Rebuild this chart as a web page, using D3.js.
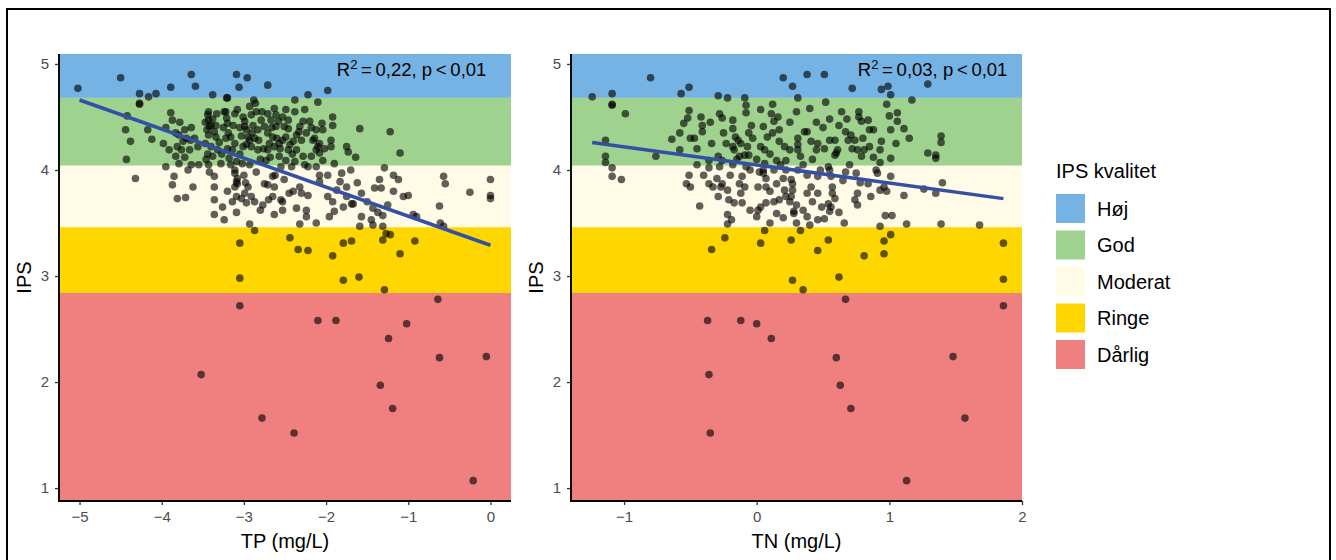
<!DOCTYPE html>
<html><head><meta charset="utf-8">
<script src="https://cdn.jsdelivr.net/npm/d3@7"></script>
<style>
html,body{margin:0;padding:0;background:#fff;}
svg{display:block;font-family:"Liberation Sans",Arial,Helvetica,sans-serif;}
</style></head>
<body><svg id="chart" width="1336" height="560"></svg>
<script>
// ---------- DATA ----------
const qualityNames = ["Høj","God","Moderat","Ringe","Dårlig"];
const qualityColors = ["#74B3E3","#9FD18F","#FFFBE6","#FFD700","#F08080"];
const qualityLower = [4.68, 4.04, 3.46, 2.84, -Infinity]; // lower IPS bound of each class
const qualityUpper = [Infinity, 4.68, 4.04, 3.46, 2.84];

const yTicks = [1,2,3,4,5];
const tpTicks = [-5,-4,-3,-2,-1,0];
const tnTicks = [-1,0,1,2];

// TP (mg/L) vs IPS
const tpData = [
[-5.02,4.77],[-4.50,4.87],[-3.64,4.90],[-3.59,4.79],[-3.89,4.78],[-3.09,4.90],[-2.96,4.87],[-3.06,4.78],[-2.71,4.80],
[-4.27,4.72],[-4.16,4.69],[-4.07,4.72],[-4.27,4.62],[-4.27,4.63],[-3.38,4.71],[-3.20,4.68],[-2.88,4.66],[-2.86,4.63],[-2.63,4.58],
[-4.44,4.38],[-4.38,4.27],[-4.12,4.29],[-4.17,4.38],[-4.43,4.10],[-4.32,3.92],[-4.42,4.51],
[-3.89,4.54],[-3.87,4.47],[-3.91,4.19],[-3.83,4.13],[-3.79,4.06],[-3.76,4.19],[-3.72,4.38],[-3.64,4.40],[-3.65,4.28],[-3.66,4.19],
[-3.74,4.27],[-3.83,4.35],[-3.95,4.03],[-3.64,4.05],[-3.56,4.22],[-3.85,3.94],[-3.87,3.86],[-3.81,3.73],[-3.71,3.74],[-3.62,3.84],
[-3.79,4.33],[-3.70,4.30],[-3.81,4.22],
[-3.43,4.55],[-3.43,4.47],[-3.40,4.42],[-3.43,4.33],[-3.40,4.22],[-3.43,4.05],[-3.42,3.98],[-3.36,3.94],[-3.36,3.84],[-3.36,3.72],
[-3.36,3.58],[-3.26,3.65],[-3.24,3.53],[-3.44,4.52],[-3.34,4.42],[-3.33,4.53],[-3.34,4.31],[-3.32,4.19],[-3.38,4.13],[-3.28,4.06],[-3.42,4.41],
[-3.21,4.68],[-3.22,4.55],[-3.21,4.49],[-3.20,4.44],[-3.22,4.30],[-3.20,4.20],[-3.18,4.11],[-3.16,4.05],[-3.11,3.97],[-3.09,3.89],
[-3.11,3.84],[-3.09,3.75],[-3.03,3.73],[-3.09,3.60],[-2.93,3.49],[-2.87,3.43],[-3.05,3.31],[-3.05,2.98],[-3.05,2.72],
[-3.11,4.53],[-3.08,4.57],[-3.16,4.31],[-3.11,4.25],[-3.14,4.19],[-3.09,4.08],[-3.11,4.00],[-3.08,3.92],[-3.08,3.87],
[-3.01,4.50],[-2.99,4.46],[-2.97,4.38],[-2.95,4.31],[-2.91,4.52],[-2.85,4.55],[-2.91,4.22],[-2.87,4.30],[-2.83,4.19],[-2.85,3.98],
[-2.95,3.84],[-2.91,3.75],[-2.87,3.70],[-2.97,3.69],[-2.77,3.67],[-2.75,3.87],[-2.71,3.86],[-2.65,3.94],[-2.63,3.84],[-2.65,3.75],
[-2.55,3.72],[-2.63,3.58],[-2.99,4.41],[-2.93,4.28],[-2.97,4.24],[-3.01,4.22],[-2.89,4.42],[-2.83,4.38],[-2.93,4.05],
[-2.71,4.53],[-2.67,4.47],[-2.61,4.52],[-2.61,4.41],[-2.65,4.31],[-2.71,4.19],[-2.73,4.09],[-2.57,4.13],[-2.55,4.03],[-2.51,3.91],
[-2.63,4.22],[-2.51,4.41],[-2.53,4.28],[-2.75,4.41],[-2.79,4.47],[-2.71,4.35],[-2.69,4.25],
[-1.98,4.75],[-2.22,4.71],[-2.10,4.64],[-2.38,4.66],[-2.49,4.57],[-2.38,4.55],[-2.26,4.57],[-2.46,4.47],[-2.46,4.39],[-1.92,4.50],
[-1.92,4.42],[-2.04,4.38],[-2.12,4.38],[-1.94,4.28],[-1.94,4.22],[-1.75,4.22],[-1.73,4.17],[-1.64,4.12],[-1.59,4.39],[-1.22,4.36],[-1.10,4.16],
[-2.49,4.31],[-2.36,4.33],[-2.30,4.28],[-2.46,4.19],[-2.36,4.19],[-2.28,4.13],[-2.18,4.13],[-2.12,4.19],[-2.10,4.22],[-2.08,4.25],
[-2.16,4.28],[-2.49,4.09],[-2.38,4.08],[-2.22,4.03],[-2.12,4.03],[-2.08,4.16],[-2.32,4.41],[-2.20,4.46],[-2.53,4.50],[-2.57,4.25],
[-2.40,4.27],[-2.42,4.03],[-2.26,4.05],[-2.04,4.09],[-1.90,4.06],
[-1.81,3.97],[-1.83,3.89],[-1.75,3.84],[-1.87,3.81],[-1.75,3.75],[-1.69,3.68],[-1.79,3.65],[-2.08,3.95],[-2.08,3.89],[-1.98,3.75],
[-1.92,3.70],[-1.67,3.68],[-1.57,3.56],[-2.32,3.84],[-2.30,3.78],[-2.22,3.76],[-2.36,3.64],[-2.24,3.62],[-2.24,3.56],[-2.12,3.50],
[-2.32,3.49],[-1.96,3.56],[-1.90,3.61],[-2.53,3.70],[-2.53,3.62],[-2.40,3.80],[-1.57,3.78],[-1.41,3.83],[-1.33,3.83],[-1.35,3.91],
[-1.29,4.02],[-1.18,3.95],[-1.12,3.91],[-1.18,3.80],[-1.06,3.75],[-1.00,3.76],[-1.25,3.67],[-1.31,3.57],[-1.43,3.64],[-1.45,3.53],
[-1.43,3.48],[-1.31,3.47],[-1.27,3.40],[-1.22,3.39],[-1.31,3.34],[-1.59,3.47],
[-0.94,3.58],[-0.90,3.56],[-0.61,3.50],[-0.57,3.47],[-0.57,3.94],[-0.55,3.87],[-0.62,3.66],[-0.25,3.79],[0.00,3.91],[0.00,3.76],[0.00,3.73],
[-2.44,3.36],[-2.34,3.25],[-2.22,3.24],[-1.92,3.19],[-1.79,3.31],[-1.69,3.33],[-1.79,2.96],[-1.60,2.99],[-1.10,3.21],[-0.92,3.33],
[-1.29,2.87],[-0.64,2.78],
[-3.52,2.07],[-2.10,2.58],[-1.88,2.58],[-1.02,2.55],[-1.24,2.41],[-0.62,2.23],[-0.05,2.24],[-1.34,1.97],[-2.78,1.66],[-2.39,1.52],
[-1.19,1.75],[-0.21,1.07],
[-3.47,4.45],[-3.45,4.38],[-3.47,4.25],[-3.44,4.15],[-3.46,4.10],[-3.38,4.48],[-3.36,4.36],[-3.30,4.26],[-3.25,4.40],[-3.27,4.15],
[-3.24,4.55],[-3.19,4.35],[-3.13,4.42],[-3.05,4.40],[-3.03,4.32],[-3.05,4.15],[-3.02,4.06],[-3.00,3.95],[-2.98,3.88],[-2.93,4.60],
[-2.90,4.35],[-2.82,4.28],[-2.80,4.10],[-2.78,4.55],[-2.76,4.20],[-2.68,4.12],[-2.66,4.40],[-2.60,4.30],[-2.58,4.46],[-2.56,4.20],
[-2.44,4.24],[-2.41,4.15],[-2.33,4.36],[-2.28,4.46],[-2.24,4.35],[-2.18,4.40],[-2.14,4.30],[-2.05,4.44],[-2.02,4.20],[-3.98,4.25],
[-3.95,4.40],[-3.78,4.45],[-3.72,4.12],[-3.68,4.00],[-3.60,4.30],[-3.55,4.05],[-3.20,3.80],[-3.14,3.70],[-2.99,3.78],[-2.80,3.62],
[-2.70,3.72],[-2.45,3.78],[-2.62,3.95],[-1.98,3.95],[-1.70,4.00],[-1.50,3.70],[-1.37,3.60],[-1.62,3.88]
];

// TN (mg/L) vs IPS
const tnData = [
[-1.24,4.69],[-1.09,4.72],[-1.09,4.61],[-1.09,4.62],[-0.99,4.53],[-0.80,4.87],[-0.57,4.72],[-0.51,4.78],[-0.29,4.70],[-0.22,4.68],
[-1.14,4.28],[-1.14,4.13],[-1.14,4.07],[-1.09,4.02],[-1.09,3.94],[-1.02,3.91],[-0.76,4.13],[-0.64,4.29],[-0.58,4.35],[-0.58,4.19],
[-0.55,4.44],[-0.51,4.56],[-0.52,4.49],[-0.50,4.30],[-0.47,4.30],[-0.53,3.87],[-0.51,3.95],[-0.50,3.84],[-0.43,3.66],[-0.42,4.50],
[-0.41,4.42],[-0.41,4.36],[-0.34,4.25],[-0.36,4.09],[-0.36,4.02],[-0.28,4.03],[-0.26,4.09],[-0.28,4.53],[-0.26,4.49],[-0.23,4.25],
[-0.18,4.22],[-0.17,4.19],[-0.36,3.87],[-0.33,3.84],[-0.27,3.84],[-0.26,3.87],[-0.29,3.75],[-0.22,3.81],[-0.21,3.72],[-0.17,3.69],
[-0.22,3.58],[-0.19,3.53],[-0.22,3.49],[-0.18,4.47],[-0.18,4.39],[-0.16,4.31],[-0.14,4.28],[-0.12,4.25],[-0.09,4.68],[-0.08,4.61],
[-0.08,4.54],[-0.04,4.42],[-0.06,4.35],[-0.03,4.30],[-0.07,4.22],[-0.06,4.14],[-0.09,4.14],[-0.13,4.13],[-0.11,3.94],[-0.13,3.87],
[-0.09,3.84],[-0.11,3.69],[0.01,3.84],[0.07,3.84],[0.02,3.98],[0.05,3.97],[0.07,3.92],[0.03,3.65],[0.01,3.62],[0.00,3.56],
[0.07,3.69],[0.03,4.57],[0.05,4.41],[0.11,4.53],[0.13,4.46],[0.16,4.50],[0.17,4.38],[0.08,4.31],[0.12,4.35],[0.17,4.27],
[0.21,4.22],[0.25,4.19],[0.22,4.09],[0.15,4.09],[0.06,4.19],[0.13,3.70],[0.15,3.59],[0.17,3.72],[0.21,3.81],[0.22,3.75],
[0.25,3.70],[0.27,3.87],[0.26,3.91],[0.28,3.59],[-0.34,3.25],[-0.24,3.36],[0.03,3.31],[0.06,3.43],[0.26,3.34],[0.27,2.96],
[0.20,4.87],[0.27,4.79],[0.06,4.06],[0.05,4.00],[0.13,4.00],[0.15,3.87],[0.22,4.00],[-0.29,4.13],[-0.18,4.05],[-0.08,4.03],
[0.38,4.90],[0.51,4.90],[0.72,4.77],[0.94,4.76],[0.99,4.79],[1.01,4.71],[1.17,4.66],[1.29,4.81],[0.31,4.68],[0.52,4.64],
[0.64,4.55],[0.77,4.55],[0.77,4.50],[0.79,4.46],[0.84,4.47],[0.85,4.38],[0.88,4.38],[1.06,4.54],[1.00,4.51],[1.06,4.46],
[1.11,4.39],[1.01,4.38],[0.94,4.27],[0.93,4.19],[1.01,4.11],[0.93,4.07],[0.79,4.13],[0.81,4.19],[0.76,4.19],[0.74,4.28],
[0.71,4.33],[0.67,4.36],[0.69,4.28],[0.59,4.28],[0.61,4.19],[0.59,4.14],[0.55,4.28],[0.51,4.20],[0.45,4.19],[0.46,4.25],
[0.41,4.27],[0.38,4.36],[0.36,4.36],[0.31,4.30],[0.31,4.24],[0.31,4.19],[0.33,4.13],[0.60,4.16],[1.29,4.16],[1.35,4.14],
[1.35,4.11],[1.39,4.32],[1.39,4.26],[1.40,3.88],[1.35,3.78],[1.26,3.82],[1.11,3.76],[1.68,3.48],[1.39,3.49],[1.13,3.49],
[0.93,3.47],[0.97,3.57],[1.02,3.57],[1.01,3.39],[0.96,3.33],[0.96,3.21],[0.81,3.19],[0.62,2.99],[0.67,2.78],[0.46,3.24],
[0.54,3.34],[0.35,2.87],[1.86,3.31],[1.86,2.97],[1.86,2.72],
[0.31,4.00],[0.38,3.95],[0.46,3.94],[0.54,4.03],[0.55,4.00],[0.56,3.94],[0.57,3.84],[0.57,3.78],[0.59,3.73],[0.54,3.68],
[0.49,3.65],[0.56,3.65],[0.55,3.61],[0.51,3.54],[0.46,3.53],[0.38,3.56],[0.40,3.48],[0.33,3.43],[0.30,3.50],[0.28,3.61],
[0.30,3.67],[0.26,3.75],[0.27,3.81],[0.38,3.78],[0.46,3.78],[0.41,3.84],[0.66,3.50],[0.67,3.98],[0.75,3.97],[0.76,3.78],
[0.74,3.72],[0.76,3.67],[0.84,3.87],[0.91,3.97],[0.93,3.81],[0.96,3.84],[0.98,3.80],[1.01,3.94],[0.86,3.75],
[-0.37,2.58],[-0.12,2.58],[0.00,2.55],[0.11,2.41],[-0.36,2.07],[0.60,2.23],[1.48,2.24],[0.63,1.97],[0.71,1.75],[1.57,1.66],
[-0.35,1.52],[1.13,1.07],
[-0.45,4.05],[-0.40,3.95],[-0.30,3.92],[-0.20,3.95],[-0.15,4.10],[-0.05,4.00],[0.00,4.10],[0.03,4.22],[0.10,4.15],[0.18,4.05],
[0.10,3.80],[0.20,3.92],[0.35,4.05],[0.42,4.10],[0.48,4.00],[0.50,4.40],[0.55,4.48],[0.62,4.42],[0.68,4.48],[0.72,4.20],
[0.80,4.30],[0.85,4.22],[0.88,4.12],[0.90,4.00],[0.70,4.05],[0.65,3.90],[0.42,3.70],[0.35,3.62],[0.20,3.55],[0.10,3.50],
[-0.05,3.62],[-0.12,3.78],[0.45,4.45],[0.25,4.45],[0.30,4.55],[0.40,4.58],[-0.35,4.45],[-0.45,4.20],[0.12,4.62],[0.78,3.88],
[0.62,3.60],[-0.25,4.35],[1.05,4.25],[1.15,4.30],[0.98,4.62]
];

// fitted regression lines (end points)
const tpFit = [[-5.0,4.66],[0.0,3.29]];
const tnFit = [[-1.24,4.26],[1.86,3.73]];

const tpStat = {r2:"0,22", p:"0,01", x:-1.87, y:4.887};
const tnStat = {r2:"0,03", p:"0,01", x:0.762, y:4.887};

// ---------- DRAW ----------
const svg = d3.select("#chart");
svg.append("rect").attr("width",1336).attr("height",560).attr("fill","#fff");
// outer frame
svg.append("rect").attr("x",7).attr("y",9).attr("width",1323).attr("height",620)
  .attr("fill","none").attr("stroke","#000").attr("stroke-width",2);

const plotTop = 54, plotBottom = 501;
const yScale = d3.scaleLinear().domain([0.878, 5.094]).range([plotBottom, plotTop]);

function drawPanel(opts){
  const {left, right, domain, ticks, data, fit, stat, xTitle} = opts;
  const x = d3.scaleLinear().domain(domain).range([left, right]);
  const y = yScale;
  const g = svg.append("g");

  // quality bands
  qualityNames.forEach((n,i)=>{
    const y0 = y(Math.max(qualityLower[i], y.domain()[0]));
    const y1 = y(Math.min(qualityUpper[i], y.domain()[1]));
    g.append("rect").attr("x",left).attr("width",right-left)
      .attr("y",y1).attr("height",y0-y1).attr("fill",qualityColors[i]);
  });

  // points
  g.append("g").selectAll("circle").data(data).join("circle")
    .attr("cx",d=>x(d[0])).attr("cy",d=>y(d[1])).attr("r",3.8)
    .attr("fill","#000").attr("fill-opacity",0.62);

  // regression line
  g.append("path").datum(fit)
    .attr("d", d3.line().x(d=>x(d[0])).y(d=>y(d[1])))
    .attr("fill","none").attr("stroke","#3450A4").attr("stroke-width",3.5);

  // stat label
  const t = g.append("text").attr("x",x(stat.x)).attr("y",y(stat.y))
    .attr("font-size",18.5).attr("fill","#000");
  t.append("tspan").text("R");
  t.append("tspan").attr("font-size",13).attr("dy",-7).text("2");
  t.append("tspan").attr("dy",7).text("\u2009=\u2009" + stat.r2 + ", p\u2009<\u2009" + stat.p);

  // axes
  const ax = g.append("g").attr("transform",`translate(0,${plotBottom})`)
    .call(d3.axisBottom(x).tickValues(ticks).tickSize(4).tickPadding(6).tickFormat(d3.format("d")));
  const ay = g.append("g").attr("transform",`translate(${left},0)`)
    .call(d3.axisLeft(y).tickValues(yTicks).tickSize(4).tickPadding(6).tickFormat(d3.format("d")));
  [ax, ay].forEach(a=>{
    a.select(".domain").remove();
    a.selectAll(".tick line").attr("stroke","#333").attr("stroke-width",1.3);
    a.selectAll(".tick text").attr("fill","#4D4D4D").attr("font-size",15)
      .attr("font-family","'Liberation Sans',Arial,sans-serif");
  });
  // axis lines
  g.append("line").attr("x1",left).attr("x2",left).attr("y1",plotTop).attr("y2",plotBottom+0.9)
    .attr("stroke","#000").attr("stroke-width",1.9);
  g.append("line").attr("x1",left-0.9).attr("x2",right).attr("y1",plotBottom).attr("y2",plotBottom)
    .attr("stroke","#000").attr("stroke-width",1.9);

  // titles
  g.append("text").attr("x",(left+right)/2).attr("y",548).attr("text-anchor","middle")
    .attr("font-size",20).attr("fill","#000").text(xTitle);
  g.append("text").attr("transform",`translate(${left-28},${(plotTop+plotBottom)/2}) rotate(-90)`)
    .attr("text-anchor","middle").attr("font-size",20).attr("fill","#000").text("IPS");
}

drawPanel({left:59, right:511, domain:[-5.25,0.25], ticks:tpTicks, data:tpData, fit:tpFit, stat:tpStat, xTitle:"TP (mg/L)"});
drawPanel({left:571, right:1022, domain:[-1.40,2.0], ticks:tnTicks, data:tnData, fit:tnFit, stat:tnStat, xTitle:"TN (mg/L)"});

// legend
const lg = svg.append("g");
lg.append("text").attr("x",1056).attr("y",178).attr("font-size",20).attr("fill","#000").text("IPS kvalitet");
qualityNames.forEach((n,i)=>{
  const yy = 194 + i*36.5;
  lg.append("rect").attr("x",1056).attr("y",yy).attr("width",29).attr("height",29).attr("fill",qualityColors[i]);
  lg.append("text").attr("x",1097).attr("y",yy+14.5).attr("dy","0.36em")
    .attr("font-size",20).attr("fill","#000").text(n);
});
</script></body></html>
